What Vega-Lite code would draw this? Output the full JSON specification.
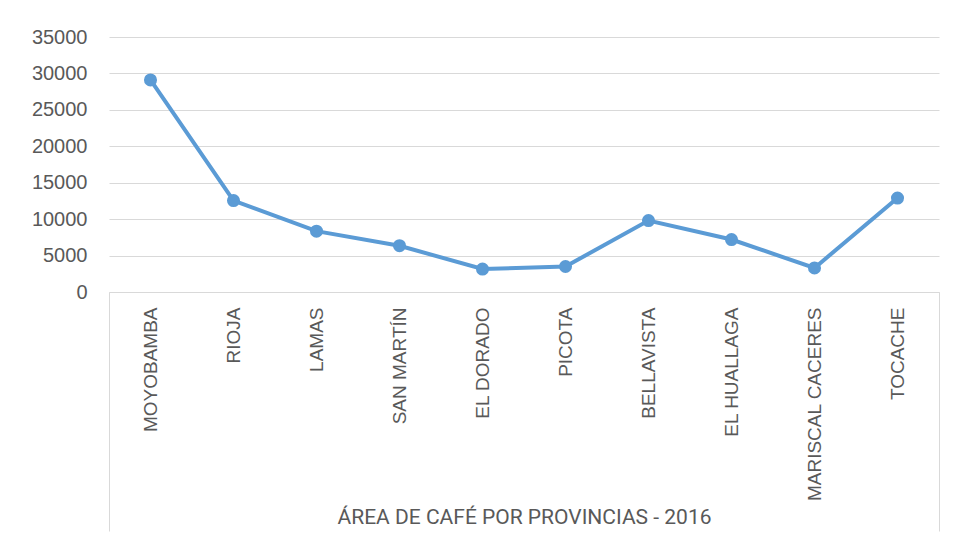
{
  "$schema": "https://vega.github.io/schema/vega-lite/v6.json",
  "width": 830,
  "height": 255,
  "autosize": {"type": "none"},
  "padding": {"left": 109, "top": 37, "right": 15, "bottom": 242},
  "background": "white",
  "config": {"view": {"stroke": null}, "font": "Liberation Sans"},
  "data": {
    "values": [
      {"provincia": "MOYOBAMBA", "area": 29100},
      {"provincia": "RIOJA", "area": 12550},
      {"provincia": "LAMAS", "area": 8350},
      {"provincia": "SAN MARTÍN", "area": 6350},
      {"provincia": "EL DORADO", "area": 3150},
      {"provincia": "PICOTA", "area": 3500},
      {"provincia": "BELLAVISTA", "area": 9800},
      {"provincia": "EL HUALLAGA", "area": 7200},
      {"provincia": "MARISCAL CACERES", "area": 3300},
      {"provincia": "TOCACHE", "area": 12900}
    ]
  },
  "encoding": {
    "y": {
      "field": "area", "type": "quantitative",
      "scale": {"domain": [0, 35000]},
      "axis": {
        "title": null,
        "values": [0, 5000, 10000, 15000, 20000, 25000, 30000, 35000],
        "format": "d",
        "domain": false,
        "ticks": false,
        "labelPadding": 22,
        "labelFontSize": 20,
        "labelColor": "#595959",
        "grid": true,
        "gridColor": "#d9d9d9",
        "gridWidth": 1
      }
    }
  },
  "layer": [
    {
      "mark": {"type": "line", "color": "#5b9bd5", "strokeWidth": 4},
      "encoding": {
        "x": {
          "field": "provincia", "type": "nominal", "sort": null,
          "scale": {"type": "band", "paddingInner": 0, "paddingOuter": 0},
          "axis": {
            "orient": "bottom",
            "title": "ÁREA DE CAFÉ POR PROVINCIAS - 2016",
            "titleFont": "Roboto",
            "titleFontSize": 21,
            "titleFontWeight": "normal",
            "titleColor": "#595959",
            "titleX": 415,
            "titleY": 231,
            "titleAlign": "center",
            "titleBaseline": "alphabetic",
            "labelAngle": -90,
            "labelAlign": "right",
            "labelBaseline": "middle",
            "labelPadding": 15,
            "labelFontSize": 19,
            "labelColor": "#595959",
            "labelLimit": 300,
            "ticks": false,
            "domain": true,
            "domainColor": "#d9d9d9",
            "domainWidth": 1,
            "grid": false
          }
        }
      }
    },
    {
      "mark": {"type": "point", "filled": true, "size": 170, "color": "#5b9bd5", "opacity": 1},
      "encoding": {
        "x": {"field": "provincia", "type": "nominal", "sort": null, "axis": null}
      }
    },
    {
      "mark": {"type": "point", "opacity": 0},
      "encoding": {
        "x": {
          "field": "provincia", "type": "nominal", "sort": null,
          "axis": {
            "orient": "bottom", "values": ["MOYOBAMBA"], "bandPosition": 0,
            "title": null, "labels": false, "domain": false, "grid": false,
            "ticks": true, "tickSize": 239, "tickColor": "#d9d9d9", "tickWidth": 1
          }
        }
      }
    },
    {
      "mark": {"type": "point", "opacity": 0},
      "encoding": {
        "x": {
          "field": "provincia", "type": "nominal", "sort": null,
          "axis": {
            "orient": "bottom", "values": ["TOCACHE"], "bandPosition": 1,
            "title": null, "labels": false, "domain": false, "grid": false,
            "ticks": true, "tickSize": 239, "tickColor": "#d9d9d9", "tickWidth": 1
          }
        }
      }
    }
  ],
  "resolve": {"axis": {"x": "independent"}}
}
